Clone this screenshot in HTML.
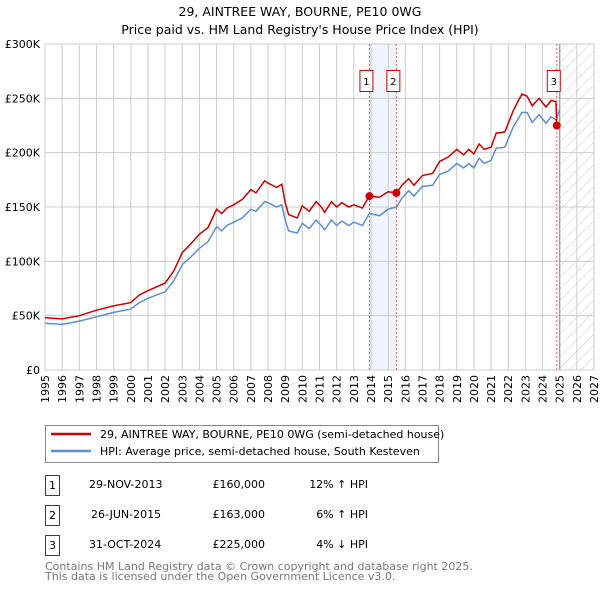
<!DOCTYPE html>
<html><head><meta charset="utf-8"><style>
body{margin:0;background:#fff;width:600px;height:590px;overflow:hidden;font-family:"DejaVu Sans","Liberation Sans",sans-serif}
svg text{font-family:"DejaVu Sans","Liberation Sans",sans-serif}
</style></head><body>
<svg id="c" width="600" height="590" xmlns="http://www.w3.org/2000/svg">
<defs><pattern id="hatch" width="8" height="8" patternUnits="userSpaceOnUse" patternTransform="rotate(45)"><line x1="0" y1="0" x2="0" y2="8" stroke="#ccc" stroke-width="1"/></pattern></defs>
<text x="300" y="16" text-anchor="middle" font-size="12.5">29, AINTREE WAY, BOURNE, PE10 0WG</text>
<text x="300" y="34" text-anchor="middle" font-size="12.5">Price paid vs. HM Land Registry's House Price Index (HPI)</text>
<g id="plot"></g>
<g>
<rect x="45.5" y="425.5" width="393" height="37" fill="#fff" stroke="#888"/>
<line x1="51" y1="434" x2="91" y2="434" stroke="#cc0000" stroke-width="2.5"/>
<text x="100" y="438" font-size="11">29, AINTREE WAY, BOURNE, PE10 0WG (semi-detached house)</text>
<line x1="51" y1="451" x2="91" y2="451" stroke="#5b8fd1" stroke-width="2.5"/>
<text x="100" y="455" font-size="11">HPI: Average price, semi-detached house, South Kesteven</text>
</g>
<g font-size="11">
<rect x="45.5" y="475.5" width="14" height="20" fill="#fff" stroke="#cc0000"/><text x="52.5" y="489" text-anchor="middle">1</text>
<text x="89" y="488">29-NOV-2013</text><text x="265" y="488" text-anchor="end">£160,000</text><text x="368" y="488" text-anchor="end">12% ↑ HPI</text>
<rect x="45.5" y="505.5" width="14" height="20" fill="#fff" stroke="#cc0000"/><text x="52.5" y="519" text-anchor="middle">2</text>
<text x="91" y="518">26-JUN-2015</text><text x="265" y="518" text-anchor="end">£163,000</text><text x="368" y="518" text-anchor="end">6% ↑ HPI</text>
<rect x="45.5" y="535.5" width="14" height="20" fill="#fff" stroke="#cc0000"/><text x="52.5" y="549" text-anchor="middle">3</text>
<text x="89" y="548">31-OCT-2024</text><text x="265" y="548" text-anchor="end">£225,000</text><text x="368" y="548" text-anchor="end">4% ↓ HPI</text>
</g>
<text x="45" y="570" font-size="11" fill="#777">Contains HM Land Registry data © Crown copyright and database right 2025.</text>
<text x="45" y="580" font-size="11" fill="#777">This data is licensed under the Open Government Licence v3.0.</text>
</svg>
<script>
const years=[1995,1996,1997,1998,1999,2000,2000.5,2001,2002,2002.5,2003,2003.5,2004,2004.5,2005,2005.3,2005.6,2006,2006.5,2007,2007.3,2007.8,2008,2008.5,2008.8,2009,2009.2,2009.7,2010,2010.4,2010.8,2011.1,2011.3,2011.7,2012,2012.3,2012.7,2013,2013.5,2013.9,2014.5,2015,2015.5,2015.8,2016.2,2016.5,2017,2017.6,2018,2018.5,2019,2019.4,2019.7,2020,2020.3,2020.6,2021,2021.3,2021.8,2022.3,2022.8,2023.1,2023.4,2023.8,2024.2,2024.5,2024.8,2025];
const hpi=[43,42,45,49,53,56,62,66,72,82,97,104,112,118,132,128,133,136,140,148,146,155,154,150,152,138,128,126,135,130,138,133,129,138,133,137,133,136,133,144,142,148,150,158,165,160,169,170,180,183,190,186,190,186,195,190,193,204,205,224,237,237,228,235,227,233,230,240];
const redYears=[1995,1996,1997,1998,1999,2000,2000.5,2001,2002,2002.5,2003,2003.5,2004,2004.5,2005,2005.3,2005.6,2006,2006.5,2007,2007.3,2007.8,2008,2008.5,2008.8,2009,2009.2,2009.7,2010,2010.4,2010.8,2011.1,2011.3,2011.7,2012,2012.3,2012.7,2013,2013.5,2013.9,2014.5,2015,2015.5,2015.8,2016.2,2016.5,2017,2017.6,2018,2018.5,2019,2019.4,2019.7,2020,2020.3,2020.6,2021,2021.3,2021.8,2022.3,2022.8,2023.1,2023.4,2023.8,2024.2,2024.5,2024.78,2024.83];
const red=[48,47,50,55,59,62,69,73,80,91,108,116,125,131,148,144,149,152,157,166,163,174,172,168,171,154,143,140,151,146,155,150,145,155,150,154,150,152,149,160,159,164,163,170,176,170,179,181,192,196,203,198,203,199,208,203,205,218,219,239,254,252,243,250,242,248,247,225];
const saleYears=[2013.91,2015.48,2024.83];
const salePrices=[160,163,225];
const saleLabels=["1","2","3"];
const yTicks=[0,50,100,150,200,250,300];
const yTickLabels=["£0","£50K","£100K","£150K","£200K","£250K","£300K"];
const xTicks=[1995,1996,1997,1998,1999,2000,2001,2002,2003,2004,2005,2006,2007,2008,2009,2010,2011,2012,2013,2014,2015,2016,2017,2018,2019,2020,2021,2022,2023,2024,2025,2026,2027];

const L=45,R=594,T=44,B=370;
const x=v=>L+(v-1995)/(2027-1995)*(R-L);
const y=v=>B-v/300*(B-T);
const NS='http://www.w3.org/2000/svg';
const g=document.getElementById('plot');
function mk(t,a,p){const e=document.createElementNS(NS,t);for(const k in a)e.setAttribute(k,a[k]);(p||g).appendChild(e);return e;}
let e=mk('rect',{x:x(saleYears[0]),y:T,width:x(saleYears[1])-x(saleYears[0]),height:B-T,fill:'#eef3fc',opacity:0.8});


e=mk('rect',{x:x(2025),y:T,width:R-x(2025),height:B-T,fill:'url(#hatch)'});


xTicks.forEach(v=>{
  let l=mk('line',{x1:x(v),y1:T,x2:x(v),y2:B,stroke:'#ccc','stroke-width':1});
  
  
  let t=mk('text',{x:0,y:0,'font-size':11,'text-anchor':'end',transform:`translate(${x(v)+4},${B+5}) rotate(-90)`});
  t.textContent=v;
  
  
});
yTicks.forEach((v,i)=>{
  let l=mk('line',{x1:L,y1:y(v),x2:R,y2:y(v),stroke:'#ccc','stroke-width':1});
  
  
  let t=mk('text',{x:40,y:y(v)+4,'font-size':11,'text-anchor':'end'});
  t.textContent=yTickLabels[i];
  
  
});
e=mk('line',{x1:x(2025),y1:T,x2:x(2025),y2:B,stroke:'#999','stroke-width':1.2});


saleYears.forEach((v,i)=>{
  let l=mk('line',{x1:x(v),y1:T,x2:x(v),y2:B,stroke:'#f06060','stroke-width':1,'stroke-dasharray':'2,2'});
  
  
});
function path(xs,ys){return xs.map((v,i)=>(i?'L':'M')+x(v).toFixed(1)+','+y(ys[i]).toFixed(1)).join('');}
e=mk('path',{d:path(years,hpi),fill:'none',stroke:'#5b8fd1','stroke-width':1.5});


e=mk('path',{d:path(redYears,red),fill:'none',stroke:'#cc0000','stroke-width':1.5});


saleYears.forEach((v,i)=>{
  let c=mk('circle',{cx:x(v),cy:y(salePrices[i]),r:4,fill:'#cc0000'});
  
  
  let bx=mk('rect',{x:x(v)-9.5,y:70.5,width:13,height:21,fill:'#fff',stroke:'#cc0000'});
  
  
  let t=mk('text',{x:x(v)-3,y:85,'font-size':10,'text-anchor':'middle'});
  t.textContent=saleLabels[i];
  
  
});
</script>
</body></html>
